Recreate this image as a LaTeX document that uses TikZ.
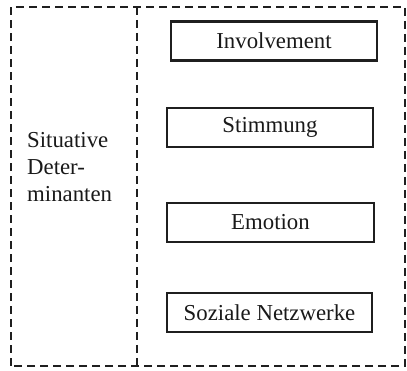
\documentclass[tikz,border=0pt]{standalone}
\usepackage{fontspec}
\setmainfont{Liberation Serif}
\begin{document}
\begin{tikzpicture}[x=1pt,y=1pt,
  frame/.style={line width=2.6pt,dash pattern=on 8pt off 5pt,color=black!88},
  itembox/.style={draw=black!88,line width=2.4pt,minimum height=39pt,inner sep=0pt,text=black!90,font=\fontsize{22.8}{27}\selectfont},
  lbl/.style={inner sep=0pt,align=left,text=black!90,font=\fontsize{22.8}{27}\selectfont}]
\useasboundingbox (0,0) rectangle (407,371);
\coordinate (fa) at (11,5);
\coordinate (fb) at (405,364);
\coordinate (da) at (137,364);
\coordinate (db) at (137,5);
\draw[frame] (fa) rectangle (fb);
\draw[frame] (da) -- (db);
\node[lbl,anchor=north west] (sit) at (27,238.5) {Situative\\Deter-\\minanten};
\node[itembox,minimum width=206pt] (inv) at (274,330) {Involvement};
\node[itembox,minimum width=206pt] (sti) at (270,243.5) {Stimmung};
\node[itembox,minimum width=207pt] (emo) at (270.5,148.5) {Emotion};
\node[itembox,minimum width=205pt] (soz) at (269.5,58.5) {Soziale Netzwerke};
\end{tikzpicture}
\end{document}
